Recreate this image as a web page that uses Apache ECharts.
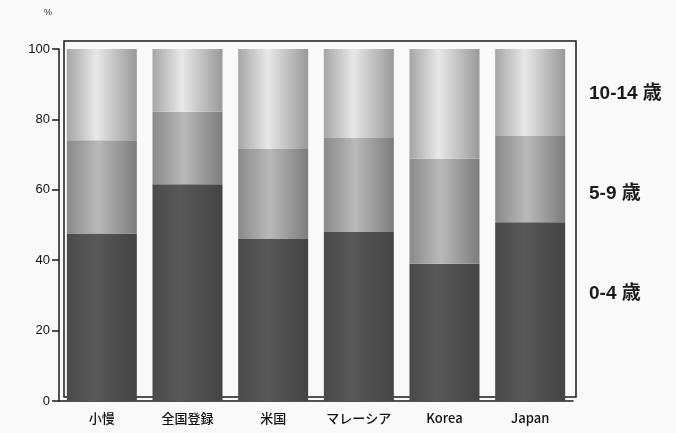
<!DOCTYPE html>
<html>
<head>
<meta charset="utf-8">
<script src="https://cdn.jsdelivr.net/npm/echarts@6/dist/echarts.min.js"></script>
<style>html,body{margin:0;padding:0;background:#f9f9f9;}#c{width:676px;height:433px;}</style>
</head>
<body>
<div id="c"></div>
<script>
const categories = ['小慢', '全国登録', '米国', 'マレーシア', 'Korea', 'Japan'];
const age0to4 = [47.6, 61.6, 46.0, 48.0, 39.0, 50.8];
const age5to9 = [26.5, 20.6, 25.6, 26.7, 29.8, 24.5];
const age10to14 = [25.9, 17.8, 28.4, 25.3, 31.2, 24.7];
const seriesNames = ['0-4 歳', '5-9 歳', '10-14 歳'];
const yTicks = [0, 20, 40, 60, 80, 100];

const grad = (stops) => new echarts.graphic.LinearGradient(0, 0, 1, 0,
  stops.map((c) => ({ offset: c[0], color: c[1] })));

const legendFont = { fontSize: 19, fontWeight: 'bold', fill: '#1a1a1a', fontFamily: 'Liberation Sans, Noto Sans CJK JP, sans-serif' };

const chart = echarts.init(document.getElementById('c'));
chart.setOption({
  backgroundColor: '#f9f9f9',
  animation: false,
  grid: [
    { left: 59, right: 103, top: 49, bottom: 32 },
    { left: 64, right: 100, top: 41, bottom: 36, show: true, borderColor: '#1a1a1a', borderWidth: 1.5, backgroundColor: 'transparent' }
  ],
  xAxis: [
    {
      type: 'category', gridIndex: 0, data: categories,
      axisLine: { lineStyle: { color: '#1a1a1a', width: 1.5 } },
      axisTick: { show: false },
      axisLabel: { color: '#111', fontSize: 13, fontWeight: 500, margin: 11, fontFamily: 'Noto Sans CJK JP, Liberation Sans, sans-serif' }
    },
    { type: 'category', gridIndex: 1, show: false, data: categories }
  ],
  yAxis: [
    {
      type: 'value', gridIndex: 0, min: 0, max: 100, interval: 20,
      axisLine: { show: true, lineStyle: { color: '#1a1a1a', width: 1.5 } },
      axisTick: { show: true, length: 7, lineStyle: { color: '#1a1a1a', width: 1.5 } },
      axisLabel: { color: '#111', fontSize: 13, margin: 9, fontFamily: 'Liberation Sans, Arial, sans-serif',
        formatter: (v) => yTicks.includes(v) ? String(v) : '' },
      splitLine: { show: false }
    },
    { type: 'value', gridIndex: 1, show: false, min: 0, max: 100 }
  ],
  graphic: [
    { type: 'text', left: 44, top: 8, style: { text: '%', fontSize: 9, fill: '#333', fontFamily: 'Liberation Sans, sans-serif' } },
    { type: 'text', left: 589, top: 84, style: Object.assign({ text: seriesNames[2] }, legendFont) },
    { type: 'text', left: 589, top: 184, style: Object.assign({ text: seriesNames[1] }, legendFont) },
    { type: 'text', left: 589, top: 284, style: Object.assign({ text: seriesNames[0] }, legendFont) }
  ],
  series: [
    {
      name: seriesNames[0], type: 'bar', stack: 'a', data: age0to4, barWidth: 70,
      itemStyle: { color: grad([[0, '#4a4a4a'], [0.4, '#585858'], [1, '#444444']]) }
    },
    {
      name: seriesNames[1], type: 'bar', stack: 'a', data: age5to9, barWidth: 70,
      itemStyle: { color: grad([[0, '#8a8a8a'], [0.45, '#b9b9b9'], [1, '#7c7c7c']]) }
    },
    {
      name: seriesNames[2], type: 'bar', stack: 'a', data: age10to14, barWidth: 70,
      itemStyle: { color: grad([[0, '#a6a6a6'], [0.42, '#e8e8e8'], [1, '#999999']]) }
    }
  ]
});
</script>
</body>
</html>
